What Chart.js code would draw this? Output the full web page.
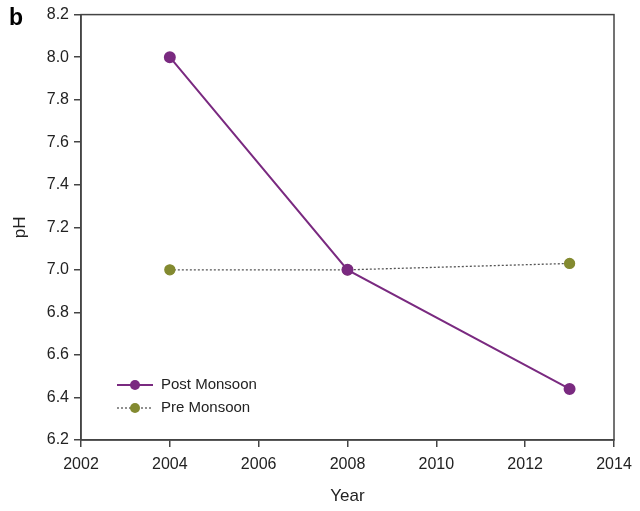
<!DOCTYPE html>
<html>
<head>
<meta charset="utf-8">
<script src="https://cdn.jsdelivr.net/npm/chart.js@4"></script>
<style>
  html, body { margin: 0; padding: 0; background: #fff; }
  #wrap { width: 640px; height: 511px; position: relative; }
</style>
</head>
<body>
<div id="wrap"><canvas id="chart"></canvas></div>
<script>
// data
var years = [2004, 2008, 2013];
var postMonsoon = [8.0, 7.0, 6.44];
var preMonsoon = [7.0, 7.0, 7.03];
var xTicks = [2002, 2004, 2006, 2008, 2010, 2012, 2014];
var yTicks = [6.2, 6.4, 6.6, 6.8, 7.0, 7.2, 7.4, 7.6, 7.8, 8.0, 8.2];

var purple = '#7a2a80';
var olive = '#838a30';
var axisColor = '#444';
var font = 'Liberation Sans, Arial, sans-serif';

function toPoints(xs, ys) {
    return xs.map(function (x, i) { return {x: x, y: ys[i]}; });
}

// box round the plot + the "b" panel letter
var framePlugin = {
    id: 'frame',
    afterDraw: function (chart) {
        var a = chart.chartArea, ctx = chart.ctx;
        ctx.save();
        ctx.strokeStyle = axisColor;
        ctx.lineWidth = 1.5;
        ctx.strokeRect(a.left, a.top, a.right - a.left, a.bottom - a.top);
        ctx.fillStyle = '#000';
        ctx.font = 'bold 23px ' + font;
        ctx.textBaseline = 'middle';
        ctx.fillText('b', 9, 19);
        ctx.restore();
    }
};

// legend inside the plot, lower left
var legendPlugin = {
    id: 'insideLegend',
    afterDatasetsDraw: function (chart) {
        var ctx = chart.ctx;
        var x0 = 117, y0 = 385, rowH = 23;
        ctx.save();
        chart.data.datasets.forEach(function (ds, i) {
            var y = y0 + i * rowH;
            ctx.strokeStyle = ds.borderColor;
            ctx.lineWidth = ds.borderWidth;
            ctx.setLineDash(ds.borderDash || []);
            ctx.beginPath();
            ctx.moveTo(x0, y);
            ctx.lineTo(x0 + 36, y);
            ctx.stroke();
            ctx.setLineDash([]);
            ctx.fillStyle = ds.pointBackgroundColor;
            ctx.beginPath();
            ctx.arc(x0 + 18, y, ds.pointRadius, 0, Math.PI * 2);
            ctx.fill();
            ctx.fillStyle = '#222';
            ctx.font = '15px ' + font;
            ctx.textBaseline = 'middle';
            ctx.fillText(ds.label, x0 + 44, y);
        });
        ctx.restore();
    }
};

new Chart(document.getElementById('chart'), {
    type: 'line',
    data: {
        datasets: [
            {
                label: 'Post Monsoon',
                data: toPoints(years, postMonsoon),
                borderColor: purple,
                borderWidth: 2,
                pointBackgroundColor: purple,
                pointBorderColor: purple,
                pointRadius: 5,
                tension: 0
            },
            {
                label: 'Pre Monsoon',
                data: toPoints(years, preMonsoon),
                borderColor: '#555',
                borderWidth: 1.3,
                borderDash: [2, 2],
                pointBackgroundColor: olive,
                pointBorderColor: olive,
                pointRadius: 5,
                tension: 0
            }
        ]
    },
    options: {
        responsive: true,
        maintainAspectRatio: false,
        animation: false,
        layout: { padding: { top: 14, right: 26, left: 0, bottom: 0 } },
        plugins: { legend: { display: false }, tooltip: { enabled: false } },
        scales: {
            x: {
                type: 'linear',
                min: xTicks[0],
                max: xTicks[xTicks.length - 1],
                afterBuildTicks: function (s) { s.ticks = xTicks.map(function (v) { return {value: v}; }); },
                afterFit: function (s) { s.height = 71; },
                grid: { drawOnChartArea: false, drawTicks: true, tickLength: 7, color: axisColor, lineWidth: 1.5 },
                border: { color: axisColor, width: 1.5 },
                ticks: {
                    color: '#222',
                    font: { family: font, size: 16 },
                    padding: 8,
                    maxRotation: 0,
                    callback: function (v) { return String(v); }
                },
                title: { display: true, text: 'Year', color: '#222', font: { family: font, size: 17 }, padding: { top: 14 } }
            },
            y: {
                min: yTicks[0],
                max: yTicks[yTicks.length - 1],
                afterBuildTicks: function (s) { s.ticks = yTicks.map(function (v) { return {value: v}; }); },
                afterFit: function (s) { s.width = 81; },
                grid: { drawOnChartArea: false, drawTicks: true, tickLength: 7, color: axisColor, lineWidth: 1.5 },
                border: { color: axisColor, width: 1.5 },
                ticks: {
                    color: '#222',
                    font: { family: font, size: 16 },
                    padding: 5,
                    callback: function (v) { return v.toFixed(1); }
                },
                title: { display: true, text: 'pH', color: '#222', font: { family: font, size: 17 }, padding: { top: 10, bottom: 0 } }
            }
        }
    },
    plugins: [framePlugin, legendPlugin]
});
</script>
</body>
</html>
